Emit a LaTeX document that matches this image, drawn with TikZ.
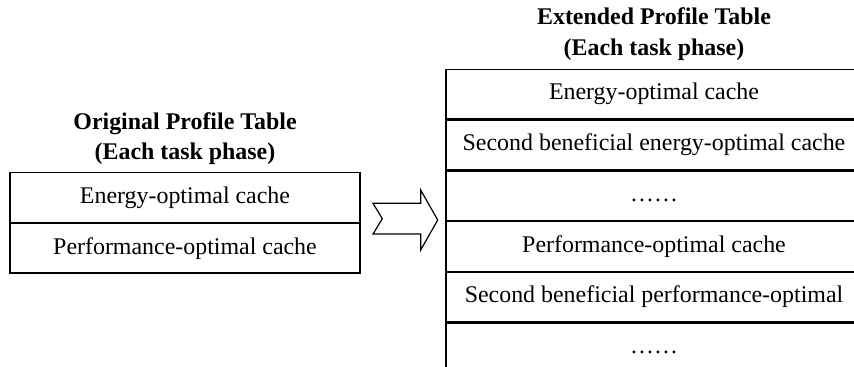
\documentclass[tikz,border=0pt]{standalone}
\usepackage{fontspec}
\setmainfont{Liberation Serif}
\usetikzlibrary{positioning}

\tikzset{
  tablecell/.style={draw, line width=1.2bp, inner sep=0pt, minimum height=49.5bp, font=\fontsize{24}{31}\selectfont},
  tabletitle/.style={align=center, inner sep=0pt, font=\fontsize{24}{30.5}\selectfont\bfseries},
}

\begin{document}
\begin{tikzpicture}[x=1bp,y=-1bp]
    \useasboundingbox (0,0) rectangle (854,366);
    \clip (0,0) rectangle (854,366);

    % original table
    \node[tablecell, minimum width=350bp] (orig1) at (185,197.5) {Energy-optimal cache};
    \node[tablecell, minimum width=350bp, below=0pt of orig1] (orig2) {Performance-optimal cache};
    \node[tabletitle] (origtitle) at (185,138.5) {Original Profile Table\\(Each task phase)};

    % extended table
    \node[tablecell, minimum width=416bp] (ext1) at (654,94.25) {Energy-optimal cache};
    \node[tablecell, minimum width=416bp, below=0pt of ext1] (ext2) {Second beneficial energy-optimal cache};
    \node[tablecell, minimum width=416bp, below=0pt of ext2] (ext3) {\strut……};
    \node[tablecell, minimum width=416bp, below=0pt of ext3] (ext4) {Performance-optimal cache};
    \node[tablecell, minimum width=416bp, below=0pt of ext4] (ext5) {Second beneficial performance-optimal};
    \node[tablecell, minimum width=416bp, below=0pt of ext5] (ext6) {\strut……};
    \node[tabletitle] (exttitle) at (654,34) {Extended Profile Table\\(Each task phase)};

    % notched arrow
    \draw[line width=1.2bp, line join=miter] (373,203.3) -- (420.7,203.3) -- (420.7,190) -- (437.7,220)
        -- (420.7,250) -- (420.7,234) -- (373,234) -- (382.3,218.7) -- cycle;
\end{tikzpicture}
\end{document}
